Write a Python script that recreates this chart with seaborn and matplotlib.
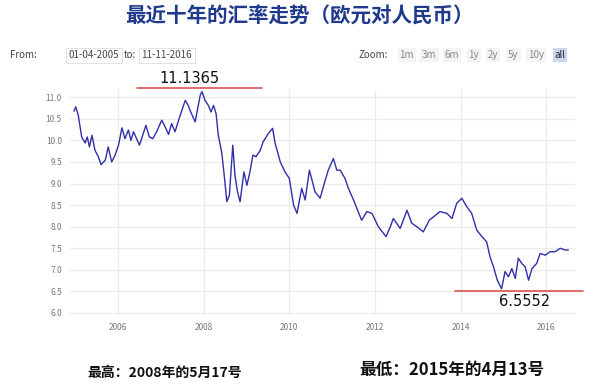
import numpy as np
import pandas as pd
import matplotlib
matplotlib.use("Agg")
import matplotlib.pyplot as plt
import seaborn as sns

sns.set_theme(style="white")
plt.rcParams['font.family'] = ['Noto Sans CJK SC', 'DejaVu Sans']

# EUR/CNY (decimal year, rate)
years = [2004.97, 2005.01, 2005.07, 2005.15, 2005.23, 2005.28, 2005.33, 2005.39, 2005.46,
         2005.54, 2005.60, 2005.70, 2005.77, 2005.85, 2005.93, 2006.01, 2006.09, 2006.16,
         2006.24, 2006.30, 2006.36, 2006.50, 2006.65, 2006.73, 2006.81, 2006.90, 2007.02,
         2007.10, 2007.18, 2007.25, 2007.33, 2007.45, 2007.57, 2007.64, 2007.68, 2007.80,
         2007.92, 2007.96, 2008.03, 2008.11, 2008.17, 2008.23, 2008.29, 2008.34, 2008.42,
         2008.48, 2008.54, 2008.60, 2008.68, 2008.73, 2008.79, 2008.85, 2008.94, 2009.01,
         2009.08, 2009.15, 2009.22, 2009.32, 2009.39, 2009.51, 2009.61, 2009.67, 2009.79,
         2009.90, 2010.00, 2010.10, 2010.18, 2010.29, 2010.37, 2010.47, 2010.60, 2010.72,
         2010.84, 2010.91, 2011.03, 2011.11, 2011.19, 2011.30, 2011.38, 2011.50, 2011.58,
         2011.69, 2011.81, 2011.93, 2012.08, 2012.26, 2012.36, 2012.43, 2012.59, 2012.75,
         2012.86, 2012.98, 2013.13, 2013.27, 2013.37, 2013.52, 2013.68, 2013.80, 2013.91,
         2014.03, 2014.15, 2014.26, 2014.38, 2014.50, 2014.61, 2014.69, 2014.77, 2014.86,
         2014.96, 2015.04, 2015.12, 2015.20, 2015.28, 2015.35, 2015.43, 2015.51, 2015.59,
         2015.67, 2015.78, 2015.86, 2015.98, 2016.09, 2016.21, 2016.33, 2016.44, 2016.52]
rates = [10.68, 10.78, 10.58, 10.08, 9.94, 10.08, 9.85, 10.12, 9.77,
         9.62, 9.44, 9.54, 9.85, 9.50, 9.66, 9.89, 10.29, 10.04,
         10.24, 10.00, 10.20, 9.89, 10.35, 10.08, 10.04, 10.20, 10.47,
         10.31, 10.14, 10.39, 10.20, 10.58, 10.93, 10.81, 10.70, 10.43,
         11.05, 11.13, 10.93, 10.81, 10.66, 10.81, 10.62, 10.12, 9.73,
         9.19, 8.58, 8.73, 9.89, 9.19, 8.81, 8.58, 9.27, 8.96,
         9.27, 9.66, 9.62, 9.77, 9.97, 10.16, 10.28, 9.93, 9.50,
         9.27, 9.12, 8.50, 8.31, 8.89, 8.62, 9.31, 8.81, 8.66,
         9.08, 9.31, 9.58, 9.31, 9.31, 9.12, 8.89, 8.62, 8.42,
         8.15, 8.35, 8.31, 8.00, 7.77, 8.00, 8.19, 7.96, 8.38,
         8.08, 8.00, 7.88, 8.15, 8.23, 8.35, 8.31, 8.19, 8.54,
         8.66, 8.46, 8.31, 7.92, 7.77, 7.65, 7.30, 7.07, 6.76,
         6.56, 6.96, 6.84, 7.03, 6.80, 7.27, 7.15, 7.07, 6.76,
         7.03, 7.15, 7.38, 7.34, 7.42, 7.42, 7.50, 7.46, 7.46]

x_ticks = [2006, 2008, 2010, 2012, 2014, 2016]
y_ticks = [6.0, 6.5, 7.0, 7.5, 8.0, 8.5, 9.0, 9.5, 10.0, 10.5, 11.0]
high_label = "11.1365"
low_label = "6.5552"
zoom_buttons = ["1m", "3m", "6m", "1y", "2y", "5y", "10y", "all"]

df = pd.DataFrame({"year": years, "rate": rates})

fig = plt.figure(figsize=(6.1, 3.86), dpi=100)
ax = fig.add_axes([0.115, 0.184, 0.828, 0.583])

sns.lineplot(data=df, x="year", y="rate", ax=ax, color="#2f2fa8", linewidth=1.0)

ax.set_xlim(2004.88, 2016.68)
ax.set_ylim(5.954, 11.17)
ax.set_xticks(x_ticks)
ax.set_xticklabels([str(t) for t in x_ticks])
ax.set_yticks(y_ticks)
ax.set_yticklabels([f"{t:.1f}" for t in y_ticks])
ax.tick_params(axis="both", labelsize=6, colors="#777777", length=0, pad=6)
ax.set_xlabel("")
ax.set_ylabel("")
for s in ax.spines.values():
    s.set_visible(False)
ax.grid(True, color="#ebebeb", linewidth=0.9)

# high / low markers
ax.plot([2006.44, 2009.36], [11.22, 11.22], color="#d9534f", lw=1.2, clip_on=False)
ax.text(2007.68, 11.27, high_label, ha="center", va="bottom", fontsize=10.5,
        color="#111111", clip_on=False, family="DejaVu Sans")
ax.plot([2013.87, 2016.86], [6.52, 6.52], color="#d9534f", lw=1.2, clip_on=False)
ax.text(2015.5, 6.43, low_label, ha="center", va="top", fontsize=10.5,
        color="#111111", clip_on=False, family="DejaVu Sans")

# title
fig.text(0.49, 0.958, "最近十年的汇率走势（欧元对人民币）", ha="center", va="center",
         fontsize=14.8, fontweight="bold", color="#1f3a8c")

# range selector
box = dict(boxstyle="square,pad=0.25", fc="white", ec="#dddddd", lw=0.6)
fig.text(0.017, 0.857, "From:", fontsize=7, color="#444444", va="center")
fig.text(0.113, 0.857, "01-04-2005", fontsize=7, color="#444444", va="center", bbox=box)
fig.text(0.203, 0.857, "to:", fontsize=7, color="#444444", va="center")
fig.text(0.232, 0.857, "11-11-2016", fontsize=7, color="#444444", va="center", bbox=box)
fig.text(0.588, 0.857, "Zoom:", fontsize=7, color="#444444", va="center")
bx = [0.655, 0.692, 0.729, 0.768, 0.800, 0.833, 0.866, 0.909]
for label, xp in zip(zoom_buttons, bx):
    if label == "all":
        fig.text(xp, 0.857, label, fontsize=7, color="#222222", va="center",
                 bbox=dict(boxstyle="square,pad=0.2", fc="#c9d9f0", ec="none"))
    else:
        fig.text(xp, 0.857, label, fontsize=7, color="#888888", va="center",
                 bbox=dict(boxstyle="square,pad=0.2", fc="#f4f4f4", ec="none"))

# bottom notes
fig.text(0.27, 0.035, "最高：2008年的5月17号", ha="center", va="center",
         fontsize=10, fontweight="bold", color="#111111")
fig.text(0.74, 0.042, "最低：2015年的4月13号", ha="center", va="center",
         fontsize=12, fontweight="bold", color="#111111")

fig.savefig("out.png", dpi=100)
